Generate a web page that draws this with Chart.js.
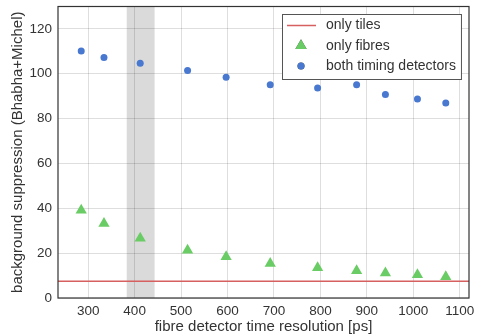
<!DOCTYPE html>
<html>
<head>
    <meta charset="UTF-8">
    <title>Background suppression</title>
    <script src="https://cdn.jsdelivr.net/npm/chart.js"></script>
    <style>
        body { margin: 0; background: #fff; }
        #wrap { width: 477px; height: 335px; }
    </style>
</head>
<body>
    <div id="wrap"><canvas id="supChart"></canvas></div>

    <script>
        // values
        const resolution = [285, 334, 412, 514, 597, 692, 794, 878, 940, 1009, 1070];
        const bothTiming = [110.2, 107.3, 104.7, 101.5, 98.4, 95.1, 93.6, 95.1, 90.7, 88.8, 87.0];
        const onlyFibres = [39.1, 33.2, 26.7, 21.3, 18.4, 15.4, 13.5, 12.1, 11.2, 10.4, 9.5];
        const onlyTiles = 7.5;
        const xRange = [235, 1120];
        const yRange = [0, 130];
        const xTicks = [300, 400, 500, 600, 700, 800, 900, 1000, 1100];
        const yTicks = [0, 20, 40, 60, 80, 100, 120];
        const band = [383, 443];

        const font = 'Liberation Sans, Arial, sans-serif';
        const textCol = '#333';

        const extras = {
            id: 'extras',
            beforeDraw(chart) {
                const c = chart.ctx, a = chart.chartArea, x = chart.scales.x;
                c.save();
                c.fillStyle = 'rgba(150,150,150,0.35)';
                const x0 = x.getPixelForValue(band[0]), x1 = x.getPixelForValue(band[1]);
                c.fillRect(x0, a.top, x1 - x0, a.bottom - a.top);
                c.restore();
            },
            afterDatasetsDraw(chart) {
                const c = chart.ctx, a = chart.chartArea;
                c.save();
                c.strokeStyle = '#333';
                c.lineWidth = 1.2;
                c.strokeRect(a.left, a.top, a.right - a.left, a.bottom - a.top);

                // legend box
                c.font = '14px ' + font;
                const labels = chart.data.datasets.map(d => d.label);
                const tw = Math.max(...labels.map(l => c.measureText(l).width));
                const w = 44 + tw + 5, h = 65;
                const bx = Math.round(a.right - 8 - w), by = Math.round(a.top + 7);
                c.fillStyle = '#fff';
                c.fillRect(bx, by, w, h);
                c.strokeStyle = '#555';
                c.lineWidth = 1;
                c.strokeRect(bx + 0.5, by + 0.5, w, h);
                chart.data.datasets.forEach((d, i) => {
                    const cy = by + 11.5 + i * 20.3;
                    const sx = bx + 19;
                    if (d.type === 'line') {
                        c.strokeStyle = d.borderColor;
                        c.lineWidth = d.borderWidth;
                        c.beginPath();
                        c.moveTo(bx + 5, cy);
                        c.lineTo(bx + 34, cy);
                        c.stroke();
                    } else {
                        Chart.helpers.drawPoint(c, {
                            pointStyle: d.pointStyle, radius: d.pointRadius, borderWidth: 0
                        }, sx, cy);
                        c.fillStyle = d.backgroundColor;
                        c.fill();
                    }
                    c.fillStyle = textCol;
                    c.textBaseline = 'middle';
                    c.fillText(d.label, bx + 44, cy);
                });
                c.restore();
            }
        };

        new Chart(document.getElementById('supChart'), {
            type: 'scatter',
            data: {
                datasets: [
                    {
                        type: 'line',
                        label: 'only tiles',
                        data: xRange.map(v => ({ x: v, y: onlyTiles })),
                        borderColor: '#d65f5f',
                        borderWidth: 1.5,
                        pointRadius: 0
                    },
                    {
                        label: 'only fibres',
                        data: resolution.map((v, i) => ({ x: v, y: onlyFibres[i] })),
                        pointStyle: 'triangle',
                        pointRadius: 6.5,
                        backgroundColor: '#6acc65',
                        borderWidth: 0
                    },
                    {
                        label: 'both timing detectors',
                        data: resolution.map((v, i) => ({ x: v, y: bothTiming[i] })),
                        pointStyle: 'circle',
                        pointRadius: 3.5,
                        backgroundColor: '#4878cf',
                        borderWidth: 0
                    }
                ]
            },
            options: {
                responsive: true,
                maintainAspectRatio: false,
                animation: false,
                layout: { padding: { left: 0, right: 8, top: 6, bottom: 0 } },
                plugins: { legend: { display: false }, tooltip: { enabled: false } },
                scales: {
                    x: {
                        type: 'linear',
                        min: xRange[0], max: xRange[1],
                        afterBuildTicks: s => { s.ticks = xTicks.map(v => ({ value: v })); },
                        afterFit: s => { s.height = 37; s.paddingLeft = 0; s.paddingRight = 0; },
                        grid: { color: 'rgba(0,0,0,0.13)', drawTicks: false },
                        border: { display: false },
                        ticks: { color: textCol, font: { family: font, size: 13.5 }, padding: 5, maxRotation: 0,
                                 callback: v => String(v) },
                        title: { display: true, text: 'fibre detector time resolution [ps]', color: textCol,
                                 font: { family: font, size: 15, lineHeight: 1.1 }, padding: { top: 0, bottom: 0 } }
                    },
                    y: {
                        min: yRange[0], max: yRange[1],
                        afterBuildTicks: s => { s.ticks = yTicks.map(v => ({ value: v })); },
                        afterFit: s => { s.width = 58; s.paddingTop = 0; s.paddingBottom = 0; },
                        grid: { color: 'rgba(0,0,0,0.13)', drawTicks: false },
                        border: { display: false },
                        ticks: { color: textCol, font: { family: font, size: 13.5 }, padding: 6,
                                 callback: v => String(v) },
                        title: { display: true, text: 'background suppression (Bhabha+Michel)', color: textCol,
                                 font: { family: font, size: 15 }, padding: { top: 9, bottom: 0 } }
                    }
                }
            },
            plugins: [extras]
        });
    </script>
</body>
</html>
